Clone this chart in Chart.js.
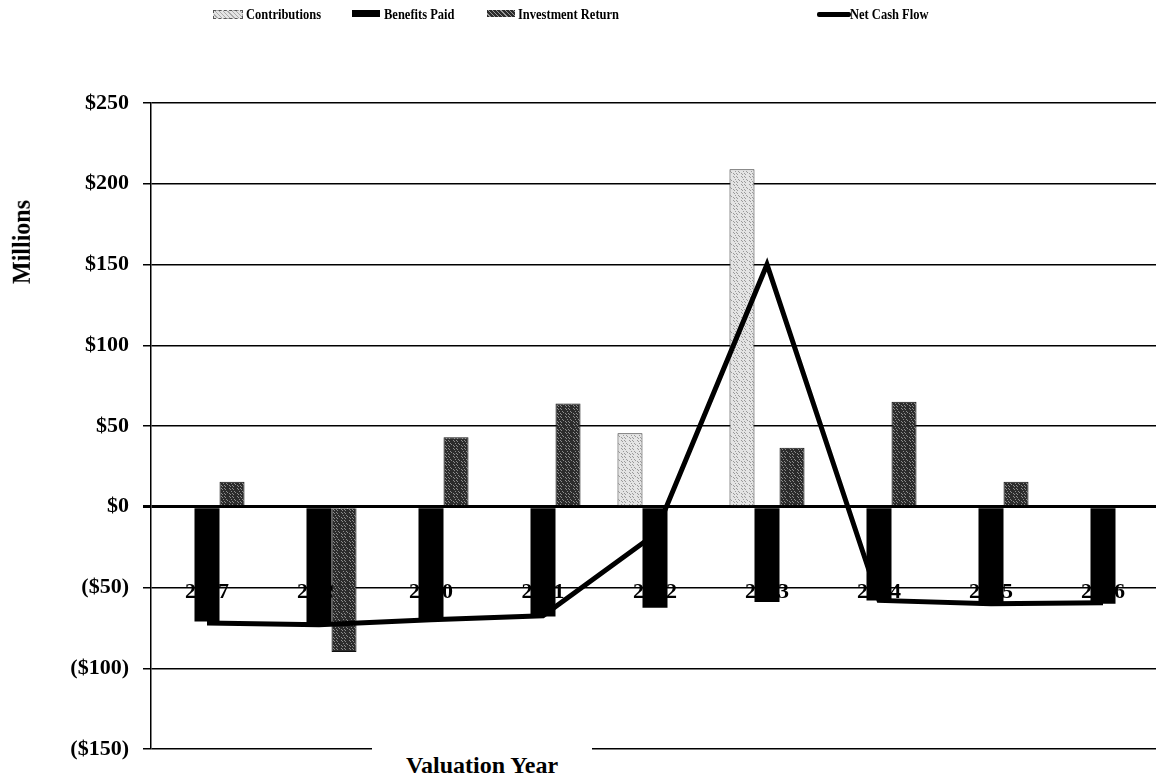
<!DOCTYPE html>
<html>
<head>
<meta charset="utf-8">
<script src="https://cdn.jsdelivr.net/npm/chart.js@4/dist/chart.umd.min.js"></script>
<style>
  html, body { margin: 0; padding: 0; background: #fff; overflow: hidden; }
  body { width: 1156px; height: 779px; position: relative; font-family: 'Liberation Serif', 'Times New Roman', serif; font-weight: bold; color: #000; }
  #wrap { position: absolute; left: 0; top: 0; width: 1160px; height: 779px; }
  .legend { position: absolute; top: 6px; font-size: 12.5px; line-height: 16px; white-space: nowrap; transform: scaleY(1.1); transform-origin: left top; }
  .swatch { position: absolute; top: 10px; width: 28px; height: 7px; }
  #ytitle { position: absolute; left: 22px; top: 242px; font-size: 24px; transform: translate(-50%, -50%) rotate(-90deg) scaleY(1.05); white-space: nowrap; }
  #xtitle { position: absolute; left: 372px; top: 745px; width: 220px; height: 34px; background: #fff; font-size: 24px; text-align: center; line-height: 40px; }
</style>
</head>
<body>
<div id="wrap"><canvas id="cashFlowChart"></canvas></div>

<div class="swatch" id="sw1" style="left:213px;"></div>
<div class="legend" style="left:246px;">Contributions</div>
<div class="swatch" style="left:352px; background:#000;"></div>
<div class="legend" style="left:384px;">Benefits Paid</div>
<div class="swatch" id="sw3" style="left:487px;"></div>
<div class="legend" style="left:518px;">Investment Return</div>
<div class="swatch" style="left:817px; top:12px; height:5px; width:34px; background:#000; border-radius:2px;"></div>
<div class="legend" style="left:850px;">Net Cash Flow</div>

<div id="ytitle">Millions</div>
<div id="xtitle">Valuation Year</div>

<script>
// Valuation years and cash flow components ($ millions)
const years = ['2007', '2009', '2010', '2011', '2012', '2013', '2014', '2015', '2016'];
const contributions = [null, null, null, null, 45.5, 209, null, null, null];
const benefitsPaid = [-71, -73, -70, -68, -62.5, -59, -58, -61, -60];
const investmentReturn = [15.5, -90, 43, 64, 1, 36.5, 65, 15.5, null];
const netCashFlow = [-72, -73, -70, -67.5, -17, 150, -58, -60, -59.5];

const yMin = -150;
const yMax = 250;
const yStep = 50;

const serif = "'Liberation Serif', 'Times New Roman', serif";

// stippled fill like the printed chart
function makePattern(base, dot) {
    const c = document.createElement('canvas');
    c.width = 8;
    c.height = 8;
    const g = c.getContext('2d');
    g.fillStyle = base;
    g.fillRect(0, 0, 8, 8);
    g.fillStyle = dot;
    for (let x = 0; x < 8; x++) {
        for (let y = 0; y < 8; y++) {
            if ((x * 31 + y * 17 + x * y * 7) % 5 === 0) g.fillRect(x, y, 1, 1);
        }
    }
    return g.createPattern(c, 'repeat');
}

document.addEventListener('DOMContentLoaded', () => {
    const ctx = document.getElementById('cashFlowChart').getContext('2d');
    const lightFill = makePattern('#e4e4e4', '#9a9a9a');
    const darkFill = makePattern('#2c2c2c', '#8c8c8c');

    document.getElementById('sw1').style.background = 'repeating-linear-gradient(45deg,#e4e4e4 0 2px,#aaa 2px 3px)';
    document.getElementById('sw1').style.border = '1px dashed #555';
    document.getElementById('sw3').style.background = 'repeating-linear-gradient(45deg,#2c2c2c 0 2px,#999 2px 3px)';

    new Chart(ctx, {
        type: 'bar',
        data: {
            labels: years,
            datasets: [
                {
                    type: 'line',
                    label: 'Net Cash Flow',
                    data: netCashFlow,
                    borderColor: '#000',
                    borderWidth: 5,
                    pointRadius: 0,
                    tension: 0,
                    fill: false,
                    order: 0
                },
                {
                    label: 'Contributions',
                    data: contributions,
                    backgroundColor: lightFill,
                    borderColor: '#333',
                    borderWidth: 1,
                    order: 1
                },
                {
                    label: 'Benefits Paid',
                    data: benefitsPaid,
                    backgroundColor: '#000',
                    borderWidth: 0,
                    order: 1
                },
                {
                    label: 'Investment Return',
                    data: investmentReturn,
                    backgroundColor: darkFill,
                    borderColor: '#111',
                    borderWidth: 1,
                    order: 1
                }
            ]
        },
        options: {
            responsive: true,
            maintainAspectRatio: false,
            animation: false,
            categoryPercentage: 0.67,
            barPercentage: 1.0,
            layout: {
                padding: { left: 0, top: 103, right: 1, bottom: 30 }
            },
            plugins: {
                legend: { display: false },
                tooltip: { enabled: false }
            },
            scales: {
                x: {
                    position: { y: -50 },
                    grid: { display: false, drawTicks: false },
                    border: { display: false },
                    ticks: {
                        color: '#000',
                        padding: -8,
                        maxRotation: 0,
                        font: { family: serif, size: 22, weight: 'bold' }
                    },
                    afterFit: (scale) => { scale.height = 0; }
                },
                y: {
                    min: yMin,
                    max: yMax,
                    border: { display: true, color: '#000', width: 1.5 },
                    grid: {
                        color: '#000',
                        lineWidth: (c) => (c.tick && c.tick.value === 0 ? 3 : 1.5),
                        tickLength: 8,
                        tickColor: '#000'
                    },
                    ticks: {
                        stepSize: yStep,
                        color: '#000',
                        padding: 14,
                        font: { family: serif, size: 22, weight: 'bold' },
                        callback: (v) => (v < 0 ? `($${Math.abs(v)})` : `$${v}`)
                    },
                    afterFit: (scale) => { scale.width = 151; }
                }
            }
        }
    });
});
</script>
</body>
</html>
